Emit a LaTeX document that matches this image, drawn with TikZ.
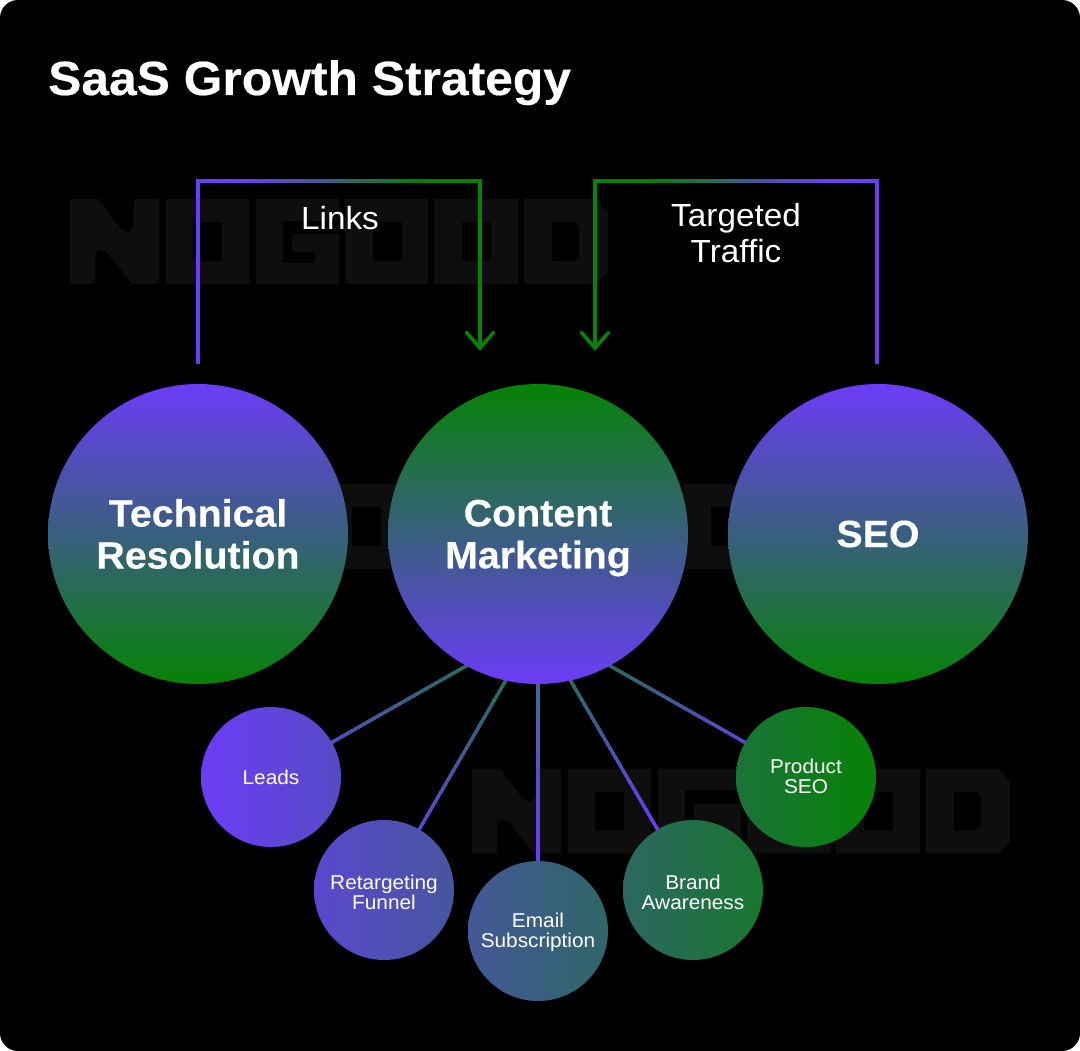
\documentclass[tikz,border=0pt]{standalone}
\usepackage{fontspec}
\setmainfont{Liberation Sans}
\newfontfamily\ttlfont[FakeStretch=1.037,BoldFeatures={FakeBold=0.4}]{Liberation Sans}
\newfontfamily\bigfont[FakeStretch=1.035,BoldFeatures={FakeBold=0.3}]{Liberation Sans}
\newfontfamily\smallfont[FakeStretch=1.04]{Liberation Sans}
\newfontfamily\lblfont[FakeStretch=1.04]{Liberation Sans}
\usetikzlibrary{calc}
\definecolor{gp}{HTML}{6C3CF7}
\definecolor{gg}{HTML}{068206}
\definecolor{wm}{HTML}{0E0E0E}
\definecolor{teal1}{HTML}{2A6B60}
\definecolor{teal2}{HTML}{3F6A8C}
\definecolor{blue1}{HTML}{4F50B8}
\definecolor{blue2}{HTML}{5A48D0}
\tikzset{
  big/.style={circle,minimum size=300pt,inner sep=0pt,outer sep=0pt,align=center,text=white,
    font=\bigfont\fontsize{38}{42}\selectfont\bfseries},
  small/.style={circle,minimum size=140pt,inner sep=0pt,outer sep=0pt,align=center,text=white,
    font=\smallfont\fontsize{20}{20}\selectfont},
  lbl/.style={align=center,text=white,inner sep=0pt,font=\lblfont\fontsize{32}{36}\selectfont},
  conn/.style={line width=3.4pt,line cap=rect},
  elbow/.style={line width=3.6pt,line join=miter},
  chevron/.style={line width=3.6pt,line cap=round,line join=miter,color=gg},
  wordmark/.pic={
    \fill[wm,even odd rule]
      (0,0)--(28,0)[rounded corners=6pt]--(53,33)--(63,33)[sharp corners]--(64,0)--(89,0)--(89,85)--(62,85)[rounded corners=6pt]--(35,51)--(25,51)[sharp corners]--(25,85)--(0,85)--cycle
      (96,0) rectangle (179,85)
      [rounded corners=2pt] (123,23) rectangle (152,62) [sharp corners]
      (186,0) rectangle (269,85)
      [rounded corners=2pt] (213,22)--(269,22)[sharp corners]--(269,35)--(222,35)--(222,53)[rounded corners=2pt]--(245,53)--(245,64)--(213,64)--cycle [sharp corners]
      (275,0) rectangle (358,85)
      [rounded corners=2pt] (303,23) rectangle (332,62) [sharp corners]
      (364,0) rectangle (448,85)
      [rounded corners=2pt] (392,23) rectangle (421,62) [sharp corners]
      (454,0)--(527,0)--(538,13)--(538,73)--(527,85)--(454,85)--cycle
      (482,23)--(504,23)--(509,28)--(509,57)--(504,62)--(482,62)--cycle;
  }
}
% from, to, colour at t0, colour at t1, t0, t1
\newcommand{\gradline}[7][conn]{%
  \foreach \i in {1,...,60}{%
    \pgfmathsetmacro{\pa}{(\i-1)/60}%
    \pgfmathsetmacro{\pb}{\i/60}%
    \pgfmathsetmacro{\mx}{100*min(1,max(0,((\i-.5)/60-#6)/(#7-#6)))}%
    \draw[#1,color=#5!\mx!#4] ($(#2)!\pa!(#3)$) -- ($(#2)!\pb!(#3)$);
  }%
}
% invisible strut that pushes a node's text down by half its height excess
\newcommand{\dnstrut}[1]{\rule{0pt}{#1}}
\begin{document}
\begin{tikzpicture}[x=1pt,y=-1pt]
\useasboundingbox (0,0) rectangle (1080,1051);
\fill[white] (0,0) rectangle (1080,1051);
\fill[black,rounded corners=18pt] (0,0) rectangle (1080,1051);

\pic at (70,199) {wordmark};
\pic at (229,484) {wordmark};
\pic at (472,768.5) {wordmark};

\node[anchor=base west,inner sep=0pt,text=white,font=\ttlfont\fontsize{48}{52}\selectfont\bfseries] (title) at (48,95) {SaaS Growth Strategy};

% layout coordinates
\coordinate (hub) at (538,625);
\coordinate (la) at (198,364);
\coordinate (lb) at (198,181);
\coordinate (lc) at (480,181);
\coordinate (ld) at (480,348);
\coordinate (ra) at (877,364);
\coordinate (rb) at (877,181);
\coordinate (rc) at (595,181);
\coordinate (rd) at (595,348);

% elbows
\draw[elbow,gp] (la) -- (lb);
\gradline[conn,line width=3.6pt]{lb}{lc}{gp}{gg}{.18}{.80}
\draw[elbow,gg] (lc) -- (ld);
\draw[chevron] (ld) ++(-13.5,-15.5) -- (ld) -- ++(13.5,-15.5);
\draw[elbow,gp] (ra) -- (rb);
\gradline[conn,line width=3.6pt]{rb}{rc}{gp}{gg}{.18}{.80}
\draw[elbow,gg] (rc) -- (rd);
\draw[chevron] (rd) ++(-13.5,-15.5) -- (rd) -- ++(13.5,-15.5);

\node[lbl] (links) at (340,218) {Links};
\node[lbl] (traffic) at (736,233) {Targeted\\Traffic};

\coordinate (cleads) at (271,777);
\coordinate (cret) at (384,890);
\coordinate (cmail) at (538,931);
\coordinate (cbrand) at (693,890);
\coordinate (cprod) at (806,777);

\gradline{hub}{cleads}{teal1}{blue1}{.28}{.77}
\gradline{hub}{cret}{teal1}{blue2}{.25}{.77}
\gradline{hub}{cmail}{teal2}{gp}{.19}{.77}
\gradline{hub}{cbrand}{teal1}{gp}{.21}{.77}
\gradline{hub}{cprod}{teal1}{blue2}{.28}{.77}

\node[big,top color=gp,bottom color=gg] (tech) at (198,534) {Technical\\Resolution};
\node[big,top color=gg,bottom color=gp] (cm) at (538,534) {Content\\\smash{Marketing}};
\node[big,top color=gp,bottom color=gg] (seo) at (878,534) {SEO};

\node[small,left color=gp,right color=gg!21!gp] (leads) at (cleads) {Leads};
\node[small,left color=gg!17!gp,right color=gg!37!gp] (ret) at (cret) {\dnstrut{20pt}Retargeting\\Funnel};
\node[small,left color=gg!40!gp,right color=gg!60!gp] (mail) at (cmail) {\dnstrut{18pt}Email\\Subscription};
\node[small,left color=gg!62!gp,right color=gg!83!gp] (brand) at (cbrand) {\dnstrut{20pt}Brand\\Awareness};
\node[small,left color=gg!79!gp,right color=gg] (prod) at (cprod) {Product\\SEO\rule[-2pt]{0pt}{0pt}};
\end{tikzpicture}
\end{document}
